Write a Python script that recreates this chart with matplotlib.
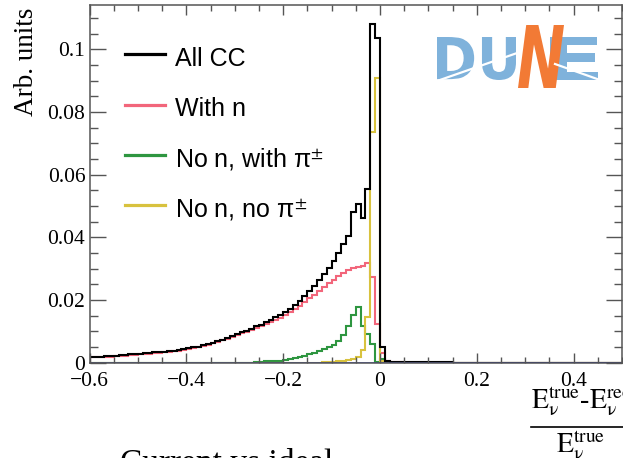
import numpy as np
import matplotlib
matplotlib.use("Agg")
import matplotlib.pyplot as plt
from matplotlib.textpath import TextPath
from matplotlib.patches import PathPatch
from matplotlib.font_manager import FontProperties
from matplotlib.lines import Line2D
import matplotlib.transforms as mtransforms

plt.rcParams['mathtext.fontset'] = 'stix'

# ---------------- data (bin width 0.01 from -0.6 to 0.5) ----------------
bin_lo, bin_hi, bin_w = -0.6, 0.5, 0.01

all_cc = [
    0.0018, 0.0018, 0.0019, 0.0020, 0.0021, 0.0022, 0.0023, 0.0024, 0.0026, 0.0027,
    0.0028, 0.0029, 0.0030, 0.0032, 0.0033, 0.0035, 0.0036, 0.0038, 0.0040, 0.0042,
    0.0045, 0.0048, 0.0051, 0.0055, 0.0059, 0.0063, 0.0068, 0.0073, 0.0078, 0.0084,
    0.0090, 0.0096, 0.0102, 0.0108, 0.0115, 0.0121, 0.0128, 0.0136, 0.0144, 0.0152,
    0.0161, 0.0172, 0.0184, 0.0197, 0.0212, 0.0228, 0.0245, 0.0263, 0.0282, 0.0302,
    0.0325, 0.0350, 0.0378, 0.0405, 0.0480, 0.0507, 0.0460, 0.0555, 0.1080, 0.1037,
    0.0048, 0.0006, 0.0003, 0.0002, 0.0002, 0.0001, 0.0001, 0.0001, 0.0001, 0.0001,
    0.0001, 0.0001, 0.0001, 0.0001, 0.0001, 0.0, 0.0, 0.0, 0.0, 0.0,
    0.0, 0.0, 0.0, 0.0, 0.0, 0.0, 0.0, 0.0, 0.0, 0.0,
    0.0, 0.0, 0.0, 0.0, 0.0, 0.0, 0.0, 0.0, 0.0, 0.0,
    0.0, 0.0, 0.0, 0.0, 0.0, 0.0, 0.0, 0.0, 0.0, 0.0,
]

with_n = [
    0.0016, 0.0016, 0.0017, 0.0018, 0.0019, 0.0020, 0.0021, 0.0022, 0.0024, 0.0025,
    0.0026, 0.0027, 0.0028, 0.0030, 0.0031, 0.0033, 0.0034, 0.0036, 0.0038, 0.0040,
    0.0043, 0.0046, 0.0049, 0.0053, 0.0057, 0.0061, 0.0066, 0.0071, 0.0076, 0.0082,
    0.0087, 0.0093, 0.0099, 0.0104, 0.0110, 0.0116, 0.0122, 0.0129, 0.0136, 0.0143,
    0.0152, 0.0161, 0.0171, 0.0182, 0.0193, 0.0205, 0.0217, 0.0229, 0.0241, 0.0253,
    0.0265, 0.0277, 0.0287, 0.0295, 0.0302, 0.0306, 0.0308, 0.0317, 0.0272, 0.0123,
    0.0030, 0.0004, 0.0002, 0.0001, 0.0001, 0.0, 0.0, 0.0, 0.0, 0.0,
    0.0, 0.0, 0.0, 0.0, 0.0, 0.0, 0.0, 0.0, 0.0, 0.0,
    0.0, 0.0, 0.0, 0.0, 0.0, 0.0, 0.0, 0.0, 0.0, 0.0,
    0.0, 0.0, 0.0, 0.0, 0.0, 0.0, 0.0, 0.0, 0.0, 0.0,
    0.0, 0.0, 0.0, 0.0, 0.0, 0.0, 0.0, 0.0, 0.0, 0.0,
]

no_n_with_pi = [
    0.0, 0.0, 0.0, 0.0, 0.0, 0.0, 0.0, 0.0, 0.0, 0.0,
    0.0, 0.0, 0.0, 0.0, 0.0, 0.0, 0.0, 0.0, 0.0, 0.0,
    0.0, 0.0, 0.0, 0.0, 0.0, 0.0, 0.0, 0.0, 0.0, 0.0,
    0.0, 0.0, 0.0, 0.0, 0.0001, 0.0003, 0.0004, 0.0004, 0.0005, 0.0006,
    0.0008, 0.0011, 0.0014, 0.0018, 0.0022, 0.0027, 0.0031, 0.0036, 0.0042, 0.0048,
    0.0056, 0.0069, 0.0089, 0.0118, 0.0152, 0.0176, 0.0117, 0.0092, 0.0060, 0.0003,
    0.0012, 0.0001, 0.0, 0.0, 0.0, 0.0, 0.0, 0.0, 0.0, 0.0,
    0.0, 0.0, 0.0, 0.0, 0.0, 0.0, 0.0, 0.0, 0.0, 0.0,
    0.0, 0.0, 0.0, 0.0, 0.0, 0.0, 0.0, 0.0, 0.0, 0.0,
    0.0, 0.0, 0.0, 0.0, 0.0, 0.0, 0.0, 0.0, 0.0, 0.0,
    0.0, 0.0, 0.0, 0.0, 0.0, 0.0, 0.0, 0.0, 0.0, 0.0,
]

no_n_no_pi = [
    0.0, 0.0, 0.0, 0.0, 0.0, 0.0, 0.0, 0.0, 0.0, 0.0,
    0.0, 0.0, 0.0, 0.0, 0.0, 0.0, 0.0, 0.0, 0.0, 0.0,
    0.0, 0.0, 0.0, 0.0, 0.0, 0.0, 0.0, 0.0, 0.0, 0.0,
    0.0, 0.0, 0.0, 0.0, 0.0, 0.0, 0.0, 0.0, 0.0, 0.0,
    0.0, 0.0, 0.0, 0.0, 0.0, 0.0, 0.0, 0.0, 0.0001, 0.0002,
    0.0003, 0.0004, 0.0005, 0.0007, 0.0010, 0.0016, 0.0040, 0.0146, 0.0736, 0.0910,
    0.0004, 0.0, 0.0, 0.0, 0.0, 0.0, 0.0, 0.0, 0.0, 0.0,
    0.0, 0.0, 0.0, 0.0, 0.0, 0.0, 0.0, 0.0, 0.0, 0.0,
    0.0, 0.0, 0.0, 0.0, 0.0, 0.0, 0.0, 0.0, 0.0, 0.0,
    0.0, 0.0, 0.0, 0.0, 0.0, 0.0, 0.0, 0.0, 0.0, 0.0,
    0.0, 0.0, 0.0, 0.0, 0.0, 0.0, 0.0, 0.0, 0.0, 0.0,
]

other = [0.0] * 110  # blue series, empty everywhere

series_labels = ["All CC", "With n", r"No n, with π$^{\pm}$", r"No n, no π$^{\pm}$"]
series_colors = ["black", "#f2667b", "#2e9640", "#d8c23e"]
other_color = "#2438c8"

xticks = [-0.6, -0.4, -0.2, 0.0, 0.2, 0.4]
xtick_labels = ["\u22120.6", "\u22120.4", "\u22120.2", "0", "0.2", "0.4"]
yticks = [0.0, 0.02, 0.04, 0.06, 0.08, 0.1]
ytick_labels = ["0", "0.02", "0.04", "0.06", "0.08", "0.1"]
ylabel = "Arb. units"

# ---------------- figure ----------------
W, H = 623, 458
fig = plt.figure(figsize=(W / 100, H / 100), dpi=100)
fig.patch.set_facecolor("white")
ax = fig.add_axes([89.5 / W, (H - 362.5) / H, (622 - 89.5) / W, (362.5 - 5) / H])

edges = np.linspace(bin_lo, bin_hi, len(all_cc) + 1)
draw_order = [(with_n, series_colors[1]), (no_n_with_pi, series_colors[2]),
              (no_n_no_pi, series_colors[3]), (all_cc, series_colors[0])]
for vals, col in draw_order:
    ax.stairs(vals, edges, color=col, lw=1.5, baseline=0)
ax.stairs(other, edges, color=other_color, lw=1.8, baseline=0)

ax.set_xlim(bin_lo, bin_hi)
ax.set_ylim(0, 0.1142)

ax.set_xticks(xticks)
ax.set_xticklabels(xtick_labels)
ax.set_yticks(yticks)
ax.set_yticklabels(ytick_labels)
ax.set_xticks(np.arange(-0.6, 0.501, 0.05), minor=True)
ax.set_yticks(np.arange(0, 0.1141, 0.005), minor=True)

spine_col = "#555555"
for s in ax.spines.values():
    s.set_color(spine_col)
    s.set_linewidth(1.1)
ax.tick_params(which="both", direction="in", top=True, right=True, color=spine_col, width=1.0)
ax.tick_params(axis="x", which="major", length=7.5, pad=7, labelsize=15.5)
ax.tick_params(axis="x", which="minor", length=4.3)
ax.tick_params(axis="y", which="major", length=11.5, pad=3, labelsize=15.5)
ax.tick_params(axis="y", which="minor", length=6)
for lab in ax.get_xticklabels() + ax.get_yticklabels():
    lab.set_fontfamily("Liberation Serif")

fig.text(27 / W, (H - 8) / H, ylabel, rotation=90, ha="center", va="top",
         family="Liberation Serif", size=19.5)

# ---------------- legend (manual, ROOT style) ----------------
leg_line_y = [54, 104.5, 155, 205.5]
for lab, col, yy in zip(series_labels, series_colors, leg_line_y):
    fig.add_artist(Line2D([125 / W, 165 / W], [(H - yy) / H] * 2, color=col, lw=2.3,
                          transform=fig.transFigure))
    fig.text(175 / W, (H - yy - 11.5) / H, lab, ha="left", va="baseline",
             family="Liberation Sans", size=18)

# ---------------- x title (fraction, clipped at right) ----------------
num = r"$\mathrm{E}_{\mathrm{\nu}}^{\mathrm{true}}$-$\mathrm{E}_{\mathrm{\nu}}^{\mathrm{rec}}$"
den = r"$\mathrm{E}_{\mathrm{\nu}}^{\mathrm{true}}$"
fig.text(531 / W, (H - 409) / H, num, ha="left", va="baseline",
         family="Liberation Serif", size=20)
fig.add_artist(Line2D([531 / W, 1.1], [(H - 427) / H] * 2, color="black", lw=1.2,
                      transform=fig.transFigure))
fig.text(556 / W, (H - 453) / H, den, ha="left", va="baseline",
         family="Liberation Serif", size=20)

# bottom caption (cut off in the reference)
fig.text(120 / W, (H - 449) / H, "Current vs ideal", ha="left", va="top",
         family="Liberation Serif", size=24)

# ---------------- DUNE logo ----------------
def fit_text(s, x0, y0, x1, y1, color, **fp):
    prop = FontProperties(**fp)
    tp = TextPath((0, 0), s, size=100, prop=prop)
    bb = tp.get_extents()
    tr = (mtransforms.Affine2D().translate(-bb.x0, -bb.y0)
          .scale((x1 - x0) / bb.width, (y1 - y0) / bb.height)
          .translate(x0, H - y1))
    patch = PathPatch(tr.transform_path(tp), facecolor=color, edgecolor="none",
                      transform=mtransforms.IdentityTransform())
    fig.add_artist(patch)

logo_blue = "#7fb2db"
fit_text("DU", 437, 37, 516, 80, logo_blue, family="DejaVu Sans", weight="heavy")
fit_text("E", 550, 37, 598, 80, logo_blue, family="DejaVu Sans", weight="heavy")
fit_text("N", 518, 25, 564, 88, "#f27a35", family="DejaVu Sans", weight="bold", style="italic")
fig.add_artist(Line2D([437 / W, 520 / W], [(H - 81) / H, (H - 52) / H], color="white", lw=1.6,
                      transform=fig.transFigure))
fig.add_artist(Line2D([555 / W, 600 / W], [(H - 64) / H, (H - 80) / H], color="white", lw=1.6,
                      transform=fig.transFigure))

fig.savefig("out.png", dpi=100)
